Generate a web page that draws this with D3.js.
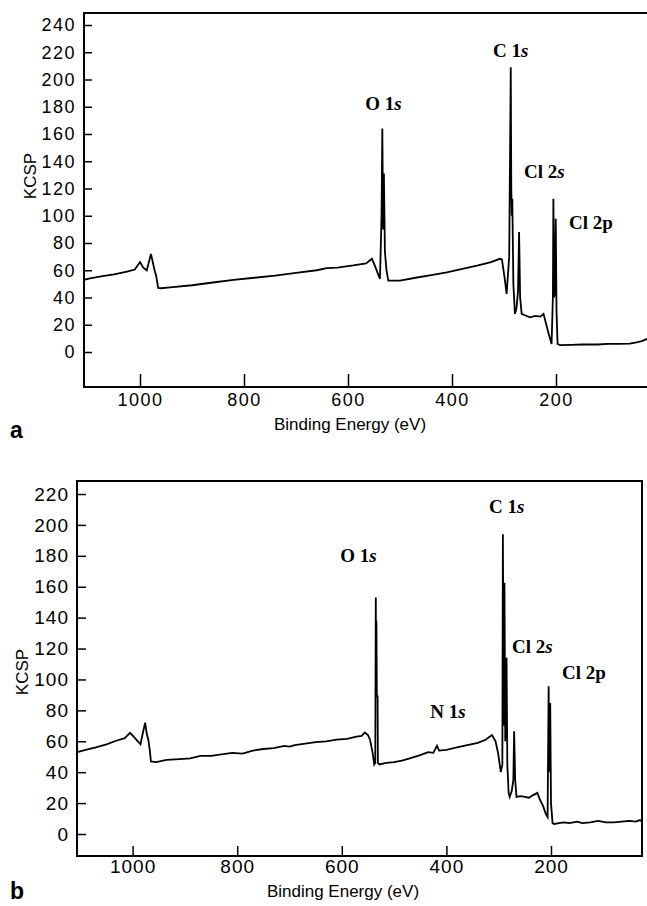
<!DOCTYPE html>
<html>
<head>
<meta charset="utf-8">
<title>XPS survey spectra</title>
<script src="https://cdnjs.cloudflare.com/ajax/libs/d3/7.8.5/d3.min.js"></script>
<style>
	body { margin: 0; background: #fff; }
	svg { display: block; }
	.axis path { display: none; }
	.axis line { stroke: #000; stroke-width: 1.5px; }
	.axis text { font-family: "Liberation Sans", Arial, sans-serif; fill: #000; }
	.frame { fill: none; stroke: #000; stroke-width: 2px; }
	.spectrum { fill: none; stroke: #000; stroke-width: 1.8px; stroke-linejoin: miter; }
	.peak-label { font-family: "Liberation Serif", "Times New Roman", serif; font-weight: bold; font-size: 19px; }
	.axis-title { font-family: "Liberation Sans", Arial, sans-serif; font-size: 17px; }
	.panel-letter { font-family: "Liberation Sans", Arial, sans-serif; font-weight: bold; font-size: 23px; }
</style>
</head>
<body>
<div id="chart"></div>
<script>

// Values (binding energy in eV, intensity in KCSP)

// panel a
var topEnergy = [1108, 1096, 1075, 1050, 1025, 1010, 1000, 994, 987, 979, 976, 972, 969, 965, 960, 942,
	900, 860, 820, 780, 740, 700, 660, 641, 620, 590, 565, 554, 548, 542, 538.5, 535.5, 534, 532.5, 531, 529, 526, 522.5,
	500, 470, 440, 410, 380, 350, 325, 308, 304, 299, 295, 290, 287, 286, 285, 284, 282, 279, 276, 273, 271, 269, 266,
	260, 250, 240, 230, 224, 218, 213, 208.5, 206, 205, 203.5, 202, 200.5, 199, 197, 192,
	170, 150, 120, 100, 80, 58, 45, 35, 25];
var topCounts = [53, 54, 55.5, 57, 59, 60.5, 66, 62, 59.8, 72, 67, 60, 56, 47, 46.8, 47.5,
	49, 51, 53, 54.5, 56, 58, 60, 61.5, 62, 63.5, 65, 68.4, 63, 57, 53.7, 100, 164, 90, 131, 73.5, 60, 52.4,
	52.4, 54.5, 56.5, 58.5, 61, 63.5, 66, 68.4, 68, 55, 42.6, 70, 209, 120, 100, 112.5, 50, 28, 32, 45, 88, 40, 28,
	27, 25.5, 26.5, 26, 28, 19, 12, 5.9, 40, 112.5, 40, 45, 97.8, 30, 5.9, 5,
	5.2, 5.5, 5.5, 6, 6, 6.2, 7, 8, 9.6];

// panel b
var bottomEnergy = [1106, 1090, 1070, 1050, 1030, 1015, 1005, 998, 990, 985, 980, 976, 973, 970, 967, 965, 955, 935,
	910, 890, 870, 850, 830, 810, 790, 770, 750, 730, 710, 700, 690, 670, 650, 630, 610, 590, 572, 562, 556, 550, 546, 541,
	538, 536, 535, 534.3, 533.8, 533, 531.6, 531, 528, 515, 500, 485, 470, 450, 435, 425, 418, 414, 400, 380, 360, 340, 325,
	313, 306, 301, 296, 293, 292, 290.5, 289, 287.5, 285, 283.5, 281, 279, 275, 272, 270.5, 268.5, 266, 258, 250, 242, 235,
	226, 221, 215, 210, 206.5, 204.5, 203.5, 201.5, 200, 197, 194, 185, 175, 165, 150, 140, 125, 110, 95, 80, 65, 50, 38, 30, 26];
var bottomCounts = [53, 54.5, 56, 58, 60.5, 62, 65.5, 63, 60, 58, 66, 72, 65, 61, 54, 47, 46.5, 48,
	48.5, 49, 50.5, 50.5, 51.5, 52.5, 52, 54, 55, 55.5, 57, 56.5, 57.5, 58.5, 59.5, 60, 61, 61.5, 63, 63.5, 65.7, 64, 61, 52.5,
	45, 46, 153, 95, 138, 89, 89, 46, 45, 46, 46.5, 47.5, 49, 51, 53, 52.5, 57, 54, 54.5, 56, 57.5, 59, 61,
	64, 60, 52, 40, 45, 194, 70, 162.6, 60, 114, 45, 26.6, 24, 28, 35, 66.4, 35, 24, 24.5, 24, 23.5, 25,
	26.6, 22, 18, 13, 11, 95.6, 40, 84.8, 20, 7, 6.5, 7, 7.5, 7, 8, 7, 7.5, 8.5, 7.5, 7.5, 8, 8.5, 8, 9, 8];

// axis ticks
var energyTicks = [1000, 800, 600, 400, 200];
var topCountTicks = [0, 20, 40, 60, 80, 100, 120, 140, 160, 180, 200, 220, 240];
var bottomCountTicks = [0, 20, 40, 60, 80, 100, 120, 140, 160, 180, 200, 220];

// peak labels (text, and where they sit in eV / KCSP)
var topPeakNames = ["O 1s", "C 1s", "Cl 2s", "Cl 2p"];
var topPeakEnergy = [567, 321, 261.5, 175];
var topPeakCounts = [177.5, 216.5, 127.5, 90];
var bottomPeakNames = ["O 1s", "C 1s", "Cl 2s", "Cl 2p", "N 1s"];
var bottomPeakEnergy = [603, 318.5, 274.5, 179, 431];
var bottomPeakCounts = [176, 207.5, 117, 100, 75];


/*
 * SpectrumPanel - Object constructor function
 * @param _svg      -- the svg element to draw into
 * @param _data     -- {energy, counts, ticks, peaks}
 * @param _layout   -- pixel layout of the panel
 */

SpectrumPanel = function(_svg, _data, _layout){
	this.svg = _svg;
	this.data = _data;
	this.layout = _layout;

	this.initVis();
}

SpectrumPanel.prototype.initVis = function(){
	var vis = this;
	var L = vis.layout;

	vis.g = vis.svg.append("g");

	// Scales (calibrated on two tick marks each)
	vis.x = d3.scaleLinear()
		.domain([1000, 200])
		.range(L.xCal);

	vis.y = d3.scaleLinear()
		.domain(L.yCalDomain)
		.range(L.yCal);

	vis.xAxis = d3.axisBottom(vis.x)
		.tickValues(energyTicks)
		.tickSize(-L.xTickLen)
		.tickPadding(L.xTickPad)
		.tickFormat(d3.format("d"));

	vis.yAxis = d3.axisLeft(vis.y)
		.tickValues(vis.data.countTicks)
		.tickSize(-L.yTickLen)
		.tickPadding(L.yTickPad)
		.tickFormat(d3.format("d"));

	// clip the trace to the frame
	vis.g.append("defs").append("clipPath")
		.attr("id", "clip-" + L.id)
		.append("rect")
		.attr("x", L.left)
		.attr("y", L.top)
		.attr("width", L.right - L.left)
		.attr("height", L.bottom - L.top);

	vis.line = d3.line()
		.x(function(d) { return vis.x(d.energy); })
		.y(function(d) { return vis.y(d.counts); });

	vis.wrangleData();
}

SpectrumPanel.prototype.wrangleData = function(){
	var vis = this;

	vis.displayData = vis.data.energy.map(function(e, i){
		return { energy: e, counts: vis.data.counts[i] };
	});

	vis.updateVis();
}

SpectrumPanel.prototype.updateVis = function(){
	var vis = this;
	var L = vis.layout;

	// frame
	vis.g.append("rect")
		.attr("class", "frame")
		.attr("x", L.left)
		.attr("y", L.top)
		.attr("width", L.right - L.left)
		.attr("height", L.bottom - L.top);

	var xg = vis.g.append("g")
		.attr("class", "axis x-axis")
		.attr("transform", "translate(0," + L.bottom + ")")
		.call(vis.xAxis);
	xg.selectAll("text")
		.style("font-size", L.tickFont + "px")
		.style("letter-spacing", L.tickSpacing + "px");

	var yg = vis.g.append("g")
		.attr("class", "axis y-axis")
		.attr("transform", "translate(" + L.left + ",0)")
		.call(vis.yAxis);
	yg.selectAll("text")
		.style("font-size", L.tickFont + "px")
		.style("letter-spacing", L.tickSpacing + "px");

	// the spectrum
	vis.g.append("path")
		.datum(vis.displayData)
		.attr("class", "spectrum")
		.attr("clip-path", "url(#clip-" + L.id + ")")
		.attr("d", vis.line);

	// peak labels, the orbital letter s in italics
	var labels = vis.g.selectAll(".peak-label")
		.data(vis.data.peakNames)
		.enter().append("text")
		.attr("class", "peak-label")
		.attr("x", function(d, i){ return vis.x(vis.data.peakEnergy[i]); })
		.attr("y", function(d, i){ return vis.y(vis.data.peakCounts[i]); });
	labels.append("tspan")
		.text(function(d){ return d.slice(0, -1); });
	labels.append("tspan")
		.style("font-style", function(d){ return d.slice(-1) == "s" ? "italic" : "normal"; })
		.text(function(d){ return d.slice(-1); });

	// axis titles
	vis.g.append("text")
		.attr("class", "axis-title")
		.attr("text-anchor", "middle")
		.attr("x", L.titleX)
		.attr("y", L.titleY)
		.text("Binding Energy (eV)");

	vis.g.append("text")
		.attr("class", "axis-title")
		.attr("text-anchor", "middle")
		.attr("transform", "translate(" + L.ylabX + "," + L.ylabY + ") rotate(-90)")
		.text("KCSP");

	vis.g.append("text")
		.attr("class", "panel-letter")
		.attr("x", L.letterX)
		.attr("y", L.letterY)
		.text(L.letter);
}


var svg = d3.select("#chart").append("svg")
	.attr("width", 647)
	.attr("height", 906);

var panelA = new SpectrumPanel(svg, {
	energy: topEnergy, counts: topCounts, countTicks: topCountTicks,
	peakNames: topPeakNames, peakEnergy: topPeakEnergy, peakCounts: topPeakCounts
}, {
	id: "a", left: 84, right: 652, top: 13, bottom: 387,
	xCal: [140, 556], yCalDomain: [0, 240], yCal: [352, 25],
	tickFont: 18, tickSpacing: 1.5, xTickLen: 13, yTickLen: 8, xTickPad: 6, yTickPad: 8,
	titleX: 350, titleY: 430, ylabX: 36, ylabY: 176,
	letter: "a", letterX: 10, letterY: 438
});

var panelB = new SpectrumPanel(svg, {
	energy: bottomEnergy, counts: bottomCounts, countTicks: bottomCountTicks,
	peakNames: bottomPeakNames, peakEnergy: bottomPeakEnergy, peakCounts: bottomPeakCounts
}, {
	id: "b", left: 77, right: 642, top: 481, bottom: 856,
	xCal: [132.6, 551], yCalDomain: [0, 220], yCal: [834, 494],
	tickFont: 19, tickSpacing: 1, xTickLen: 10, yTickLen: 9, xTickPad: 4, yTickPad: 8,
	titleX: 343, titleY: 897, ylabX: 28, ylabY: 672,
	letter: "b", letterX: 10, letterY: 899
});

</script>
</body>
</html>
